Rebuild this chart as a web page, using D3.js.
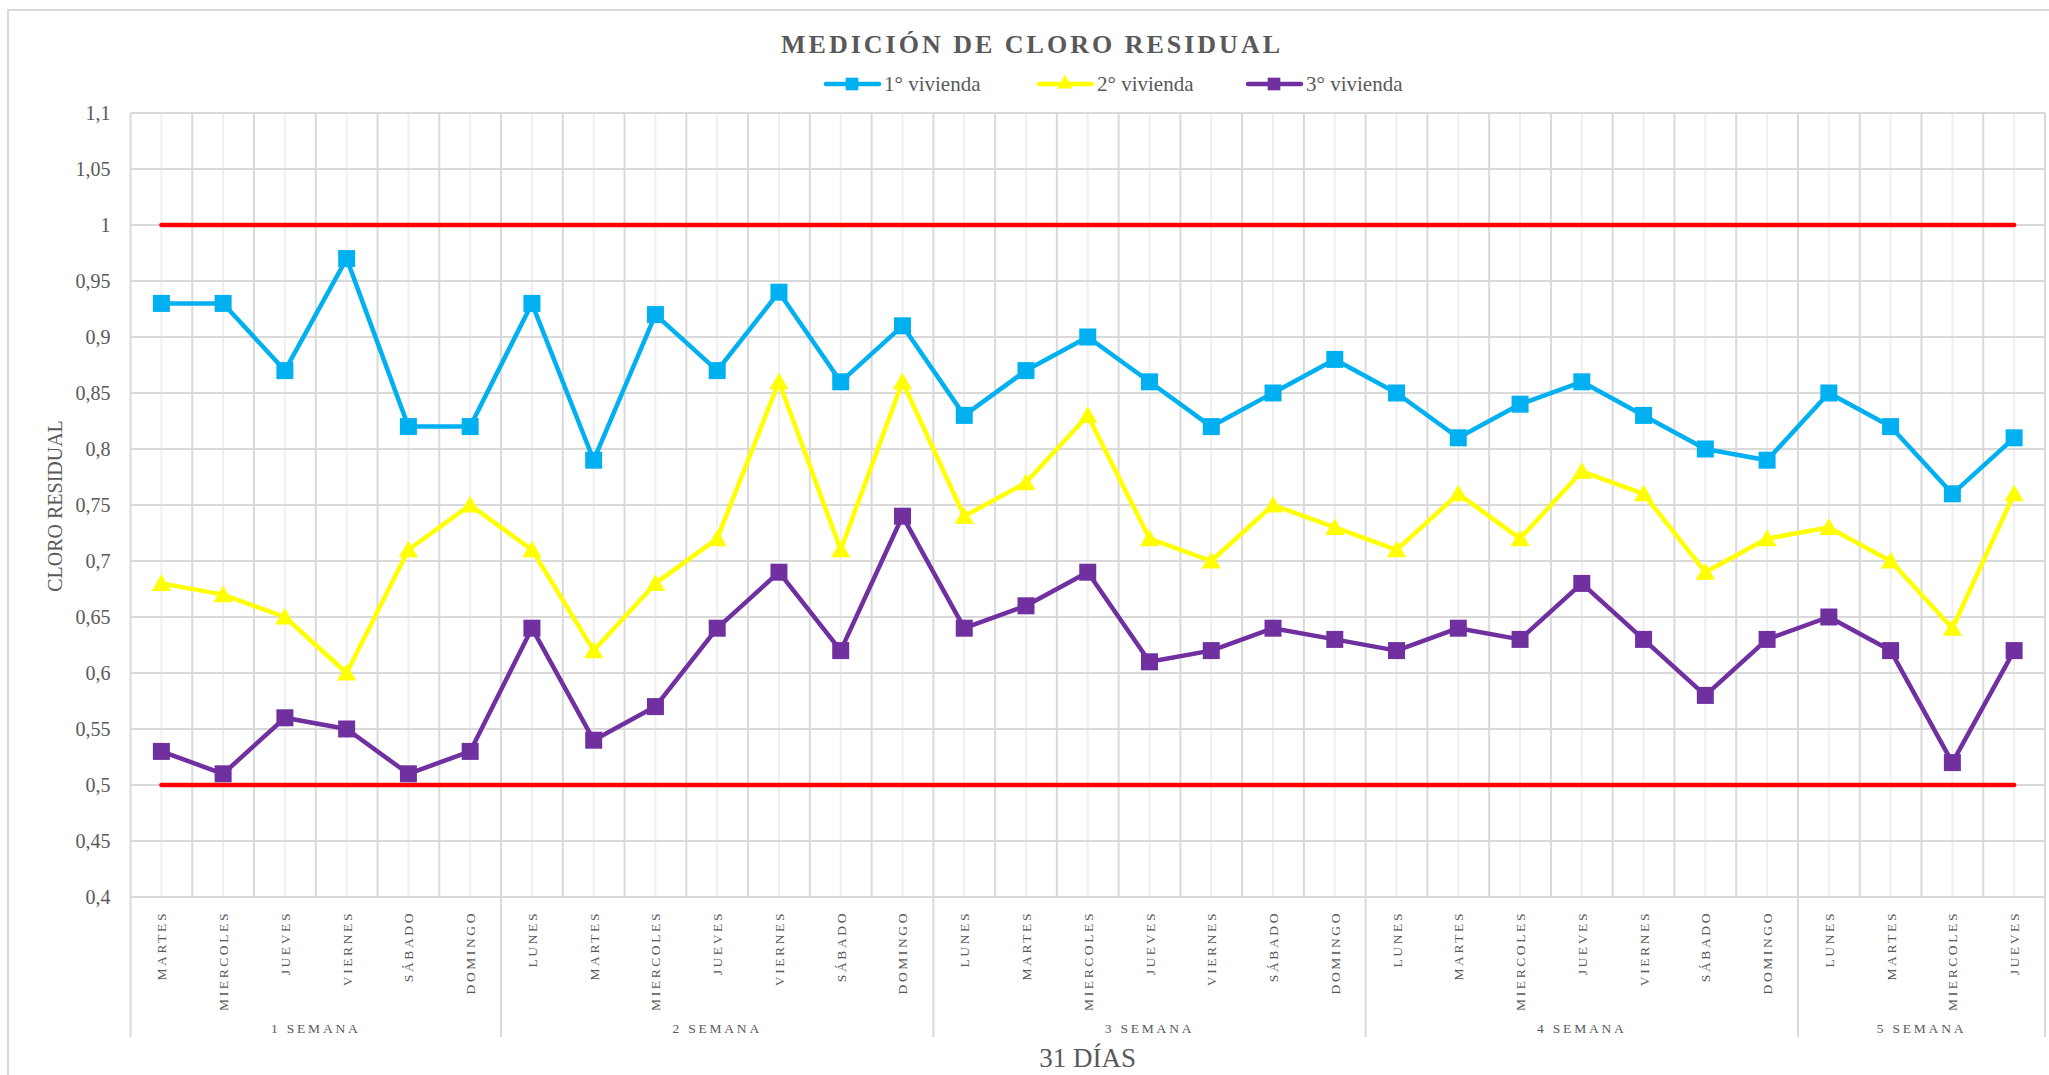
<!DOCTYPE html>
<html>
<head>
<meta charset="utf-8">
<script src="https://cdn.jsdelivr.net/npm/d3@7"></script>
<style>
  html, body { margin: 0; padding: 0; background: #fff; }
  svg { display: block; font-family: "Liberation Serif", "Times New Roman", serif; }
</style>
</head>
<body>
<svg id="chart" width="2049" height="1075"></svg>
<script>
// week groups and their days
var weeks = ['1 SEMANA', '2 SEMANA', '3 SEMANA', '4 SEMANA', '5 SEMANA'];
var weekDays = [
  ['MARTES', 'MIERCOLES', 'JUEVES', 'VIERNES', 'SÁBADO', 'DOMINGO'],
  ['LUNES', 'MARTES', 'MIERCOLES', 'JUEVES', 'VIERNES', 'SÁBADO', 'DOMINGO'],
  ['LUNES', 'MARTES', 'MIERCOLES', 'JUEVES', 'VIERNES', 'SÁBADO', 'DOMINGO'],
  ['LUNES', 'MARTES', 'MIERCOLES', 'JUEVES', 'VIERNES', 'SÁBADO', 'DOMINGO'],
  ['LUNES', 'MARTES', 'MIERCOLES', 'JUEVES']
];

var vivienda1 = [0.93, 0.93, 0.87, 0.97, 0.82, 0.82,
  0.93, 0.79, 0.92, 0.87, 0.94, 0.86, 0.91,
  0.83, 0.87, 0.90, 0.86, 0.82, 0.85, 0.88,
  0.85, 0.81, 0.84, 0.86, 0.83, 0.80, 0.79,
  0.85, 0.82, 0.76, 0.81];
var vivienda2 = [0.68, 0.67, 0.65, 0.60, 0.71, 0.75,
  0.71, 0.62, 0.68, 0.72, 0.86, 0.71, 0.86,
  0.74, 0.77, 0.83, 0.72, 0.70, 0.75, 0.73,
  0.71, 0.76, 0.72, 0.78, 0.76, 0.69, 0.72,
  0.73, 0.70, 0.64, 0.76];
var vivienda3 = [0.53, 0.51, 0.56, 0.55, 0.51, 0.53,
  0.64, 0.54, 0.57, 0.64, 0.69, 0.62, 0.74,
  0.64, 0.66, 0.69, 0.61, 0.62, 0.64, 0.63,
  0.62, 0.64, 0.63, 0.68, 0.63, 0.58, 0.63,
  0.65, 0.62, 0.52, 0.62];

var seriesNames = ['1° vivienda', '2° vivienda', '3° vivienda'];
var limits = [1, 0.5];
var yTicks = [0.4, 0.45, 0.5, 0.55, 0.6, 0.65, 0.7, 0.75, 0.8, 0.85, 0.9, 0.95, 1, 1.05, 1.1];

(function () {
  var svg = d3.select('#chart');
  var grey = '#595959', gridColor = '#d9d9d9', lightGrid = '#efefef';

  // flatten categories
  var cats = [];
  weekDays.forEach(function (days, w) {
    days.forEach(function (d) { cats.push({ day: d, week: w }); });
  });
  var idx = d3.range(cats.length);

  var plotLeft = 130.5, plotRight = 2045, plotTop = 113, plotBottom = 897;
  var x = d3.scaleBand().domain(idx).range([plotLeft, plotRight]).padding(0);
  var y = d3.scaleLinear().domain([0.4, 1.1]).range([plotBottom, plotTop]);
  var cx = function (i) { return x(i) + x.bandwidth() / 2; };
  var edge = function (i) { return i < cats.length ? x(i) : plotRight; };

  // outer border (only top and left visible)
  svg.append('rect')
    .attr('x', 8).attr('y', 10).attr('width', 2100).attr('height', 1100)
    .attr('fill', 'none').attr('stroke', gridColor).attr('stroke-width', 2);

  // grid
  var grid = svg.append('g');
  grid.selectAll('line.cen').data(idx).enter().append('line')
    .attr('x1', cx).attr('x2', cx).attr('y1', plotTop).attr('y2', plotBottom)
    .attr('stroke', lightGrid).attr('stroke-width', 2);
  grid.selectAll('line.bnd').data(d3.range(cats.length + 1)).enter().append('line')
    .attr('x1', edge).attr('x2', edge)
    .attr('y1', plotTop).attr('y2', plotBottom)
    .attr('stroke', gridColor).attr('stroke-width', 2);
  grid.selectAll('line.h').data(yTicks).enter().append('line')
    .attr('x1', plotLeft).attr('x2', plotRight)
    .attr('y1', function (d) { return y(d); }).attr('y2', function (d) { return y(d); })
    .attr('stroke', gridColor).attr('stroke-width', 2);

  // y axis labels
  var yAxis = svg.append('g').attr('transform', 'translate(' + plotLeft + ',0)')
    .call(d3.axisLeft(y).tickValues(yTicks).tickSize(0).tickPadding(20)
      .tickFormat(function (d) { return d3.format('~r')(d).replace('.', ','); }));
  yAxis.select('.domain').remove();
  yAxis.selectAll('text').attr('fill', grey).style('font-size', '20px')
    .style('font-family', '"Liberation Serif", serif');

  // category labels
  svg.append('g').selectAll('text').data(cats).enter().append('text')
    .attr('transform', function (d, i) { return 'translate(' + (cx(i) + 5) + ',911) rotate(-90)'; })
    .attr('text-anchor', 'end')
    .attr('fill', grey).style('font-size', '13.5px').style('letter-spacing', '2.6px')
    .text(function (d) { return d.day; });

  // week groups
  var starts = [];
  var acc = 0;
  weekDays.forEach(function (days) { starts.push(acc); acc += days.length; });
  starts.push(acc);
  svg.append('g').selectAll('line').data(starts).enter().append('line')
    .attr('x1', edge).attr('x2', edge)
    .attr('y1', plotBottom).attr('y2', 1037)
    .attr('stroke', gridColor).attr('stroke-width', 2);
  svg.append('g').selectAll('text').data(weeks).enter().append('text')
    .attr('x', function (w, i) { return (edge(starts[i]) + edge(starts[i + 1])) / 2; })
    .attr('y', 1033).attr('text-anchor', 'middle')
    .attr('fill', grey).style('font-size', '13.5px').style('letter-spacing', '2.8px')
    .text(function (d) { return d; });

  // limit lines
  svg.append('g').selectAll('line').data(limits).enter().append('line')
    .attr('x1', cx(0)).attr('x2', cx(cats.length - 1))
    .attr('y1', function (d) { return y(d); }).attr('y2', function (d) { return y(d); })
    .attr('stroke', '#ff0000').attr('stroke-width', 4.5).attr('stroke-linecap', 'round');

  // series
  var series = [
    { name: seriesNames[0], values: vivienda1, color: '#00b0f0', marker: 'square' },
    { name: seriesNames[1], values: vivienda2, color: '#ffff00', marker: 'triangle' },
    { name: seriesNames[2], values: vivienda3, color: '#7030a0', marker: 'square' }
  ];
  var line = d3.line().x(function (d, i) { return cx(i); }).y(function (d) { return y(d); });
  var sym = { square: d3.symbol().type(d3.symbolSquare).size(289),
              triangle: d3.symbol().type(d3.symbolTriangle).size(160) };

  series.forEach(function (s) {
    var g = svg.append('g');
    g.append('path').datum(s.values).attr('d', line)
      .attr('fill', 'none').attr('stroke', s.color).attr('stroke-width', 4.5)
      .attr('stroke-linejoin', 'round');
    g.selectAll('path.m').data(s.values).enter().append('path')
      .attr('d', sym[s.marker])
      .attr('transform', function (d, i) {
        var dy = s.marker === 'triangle' ? 2 : 0;
        return 'translate(' + cx(i) + ',' + (y(d) + dy) + ')';
      })
      .attr('fill', s.color);
  });

  // title
  svg.append('text').attr('x', 1032).attr('y', 53).attr('text-anchor', 'middle')
    .attr('fill', grey).style('font-size', '26px').style('font-weight', 'bold')
    .style('letter-spacing', '3px')
    .text('MEDICIÓN DE CLORO RESIDUAL');

  // legend
  var legendX = [826, 1039, 1248];
  var leg = svg.append('g').selectAll('g').data(series).enter().append('g')
    .attr('transform', function (d, i) { return 'translate(' + legendX[i] + ',84)'; });
  leg.append('line').attr('x1', 0).attr('x2', 53).attr('y1', 0).attr('y2', 0)
    .attr('stroke', function (d) { return d.color; }).attr('stroke-width', 4.5)
    .attr('stroke-linecap', 'round');
  leg.append('path')
    .attr('d', function (d) {
      return d.marker === 'square' ? d3.symbol().type(d3.symbolSquare).size(160)()
        : d3.symbol().type(d3.symbolTriangle).size(110)();
    })
    .attr('transform', 'translate(26,0)')
    .attr('fill', function (d) { return d.color; });
  leg.append('text').attr('x', 58).attr('y', 7)
    .attr('fill', grey).style('font-size', '21px')
    .text(function (d) { return d.name; });

  // axis titles
  svg.append('text').attr('transform', 'translate(62,506) rotate(-90)')
    .attr('text-anchor', 'middle').attr('fill', grey).style('font-size', '20px')
    .text('CLORO RESIDUAL');
  svg.append('text').attr('x', (plotLeft + plotRight) / 2).attr('y', 1067)
    .attr('text-anchor', 'middle').attr('fill', grey).style('font-size', '27px')
    .text('31 DÍAS');
})();
</script>
</body>
</html>
